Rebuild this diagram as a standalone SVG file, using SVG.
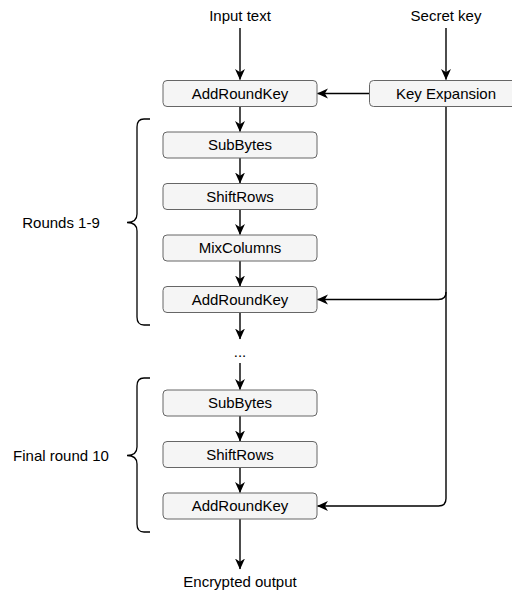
<svg xmlns="http://www.w3.org/2000/svg" width="512" height="595" viewBox="0 0 512 595">
  <style>
    .box { fill: #f5f5f5; stroke: #666666; stroke-width: 1; }
    .lbl { font-family: "Liberation Sans", Arial, sans-serif; font-size: 15px; fill: #000000; text-anchor: middle; }
    .edge { fill: none; stroke: #000000; stroke-width: 1.4; }
    .brace { fill: none; stroke: #000000; stroke-width: 1.3; }
  </style>
  <defs>
    <marker id="arrow" viewBox="0 0 10 10" refX="9.5" refY="5" markerWidth="11" markerHeight="11" markerUnits="userSpaceOnUse" orient="auto">
      <path d="M0,0.5 L10,5 L0,9.5 L2.8,5 Z" fill="#000000"/>
    </marker>
  </defs>
  <rect width="512" height="595" fill="#ffffff"/>

  <!-- connectors -->
  <g id="connectors">
    <path class="edge" d="M240,28 V79.5" marker-end="url(#arrow)"/>
    <path class="edge" d="M446,28 V79.5" marker-end="url(#arrow)"/>
    <path class="edge" d="M369,93.5 H317.5" marker-end="url(#arrow)"/>
    <path class="edge" d="M240,107 V131.5" marker-end="url(#arrow)"/>
    <path class="edge" d="M240,158 V183" marker-end="url(#arrow)"/>
    <path class="edge" d="M240,209.5 V234.5" marker-end="url(#arrow)"/>
    <path class="edge" d="M240,261 V286" marker-end="url(#arrow)"/>
    <path class="edge" d="M240,312.5 V339" marker-end="url(#arrow)"/>
    <path class="edge" d="M240,363 V389.5" marker-end="url(#arrow)"/>
    <path class="edge" d="M240,416 V441" marker-end="url(#arrow)"/>
    <path class="edge" d="M240,467.5 V492.5" marker-end="url(#arrow)"/>
    <path class="edge" d="M240,519 V569" marker-end="url(#arrow)"/>
    <path class="edge" d="M446,107 V292 Q446,299.5 438.5,299.5 H317.5" marker-end="url(#arrow)"/>
    <path class="edge" d="M446,292 V498.5 Q446,506 438.5,506 H317.5" marker-end="url(#arrow)"/>
  </g>

  <!-- round braces -->
  <g id="brace-rounds">
    <path class="brace" d="M150,119 H144 Q137,119 137,127 V214 Q137,222.5 127,222.5 Q137,222.5 137,231 V317 Q137,325 144,325 H150"/>
  </g>
  <g id="brace-final">
    <path class="brace" d="M150,378 H144 Q137,378 137,386 V447 Q137,455.5 127,455.5 Q137,455.5 137,464 V524 Q137,532 144,532 H150"/>
  </g>

  <!-- free labels -->
  <g id="input-text"><text class="lbl" x="240" y="21">Input text</text></g>
  <g id="secret-key"><text class="lbl" x="446" y="21">Secret key</text></g>
  <g id="ellipsis"><text class="lbl" x="240" y="357">...</text></g>
  <g id="encrypted-output"><text class="lbl" x="240" y="587">Encrypted output</text></g>
  <g id="rounds-label"><text class="lbl" x="61" y="228">Rounds 1-9</text></g>
  <g id="final-label"><text class="lbl" x="61" y="461">Final round 10</text></g>

  <!-- process steps -->
  <g id="add-round-key-0">
    <rect class="box" x="163" y="80.5" width="154" height="26" rx="4"/>
    <text class="lbl" x="240" y="98.5">AddRoundKey</text>
  </g>
  <g id="key-expansion">
    <rect class="box" x="369.5" y="80.5" width="154" height="26" rx="4"/>
    <text class="lbl" x="446" y="98.5">Key Expansion</text>
  </g>
  <g id="sub-bytes-1">
    <rect class="box" x="163" y="132" width="154" height="26" rx="4"/>
    <text class="lbl" x="240" y="150">SubBytes</text>
  </g>
  <g id="shift-rows-1">
    <rect class="box" x="163" y="183.5" width="154" height="26" rx="4"/>
    <text class="lbl" x="240" y="201.5">ShiftRows</text>
  </g>
  <g id="mix-columns">
    <rect class="box" x="163" y="235" width="154" height="26" rx="4"/>
    <text class="lbl" x="240" y="253">MixColumns</text>
  </g>
  <g id="add-round-key-1">
    <rect class="box" x="163" y="286.5" width="154" height="26" rx="4"/>
    <text class="lbl" x="240" y="304.5">AddRoundKey</text>
  </g>
  <g id="sub-bytes-10">
    <rect class="box" x="163" y="390" width="154" height="26" rx="4"/>
    <text class="lbl" x="240" y="408">SubBytes</text>
  </g>
  <g id="shift-rows-10">
    <rect class="box" x="163" y="441.5" width="154" height="26" rx="4"/>
    <text class="lbl" x="240" y="459.5">ShiftRows</text>
  </g>
  <g id="add-round-key-10">
    <rect class="box" x="163" y="493" width="154" height="26" rx="4"/>
    <text class="lbl" x="240" y="511">AddRoundKey</text>
  </g>
</svg>
